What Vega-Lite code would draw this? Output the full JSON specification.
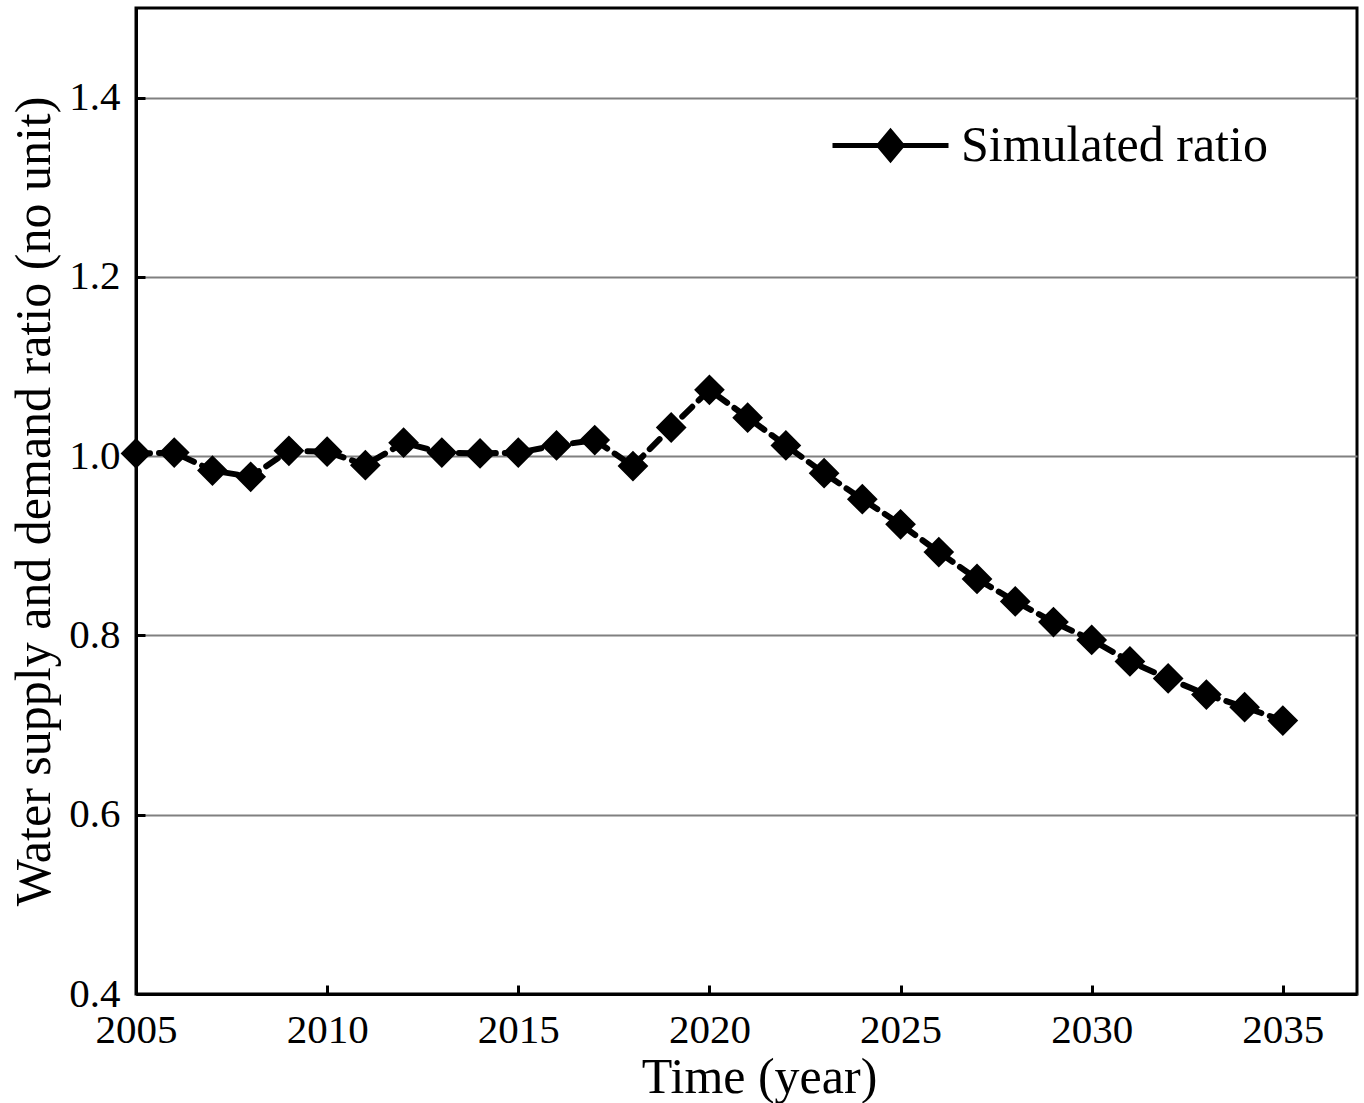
{
  "$schema": "https://vega.github.io/schema/vega-lite/v6.json",
  "width": 1221,
  "height": 986,
  "autosize": {"type": "none"},
  "padding": {"left": 136, "top": 8, "right": 7, "bottom": 109},
  "background": "white",
  "config": {
    "font": "Liberation Serif",
    "view": {"stroke": "black", "strokeWidth": 3},
    "axis": {
      "domainColor": "black", "domainWidth": 3,
      "tickColor": "black", "tickWidth": 3,
      "labelFont": "Liberation Serif", "labelFontSize": 41, "labelColor": "black",
      "titleFont": "Liberation Serif", "titleFontSize": 50, "titleFontWeight": "normal", "titleColor": "black"
    }
  },
  "data": {"values": [
    {"year": 2005, "ratio": 1.003, "series": "Simulated ratio"},
    {"year": 2006, "ratio": 1.004, "series": "Simulated ratio"},
    {"year": 2007, "ratio": 0.984, "series": "Simulated ratio"},
    {"year": 2008, "ratio": 0.977, "series": "Simulated ratio"},
    {"year": 2009, "ratio": 1.006, "series": "Simulated ratio"},
    {"year": 2010, "ratio": 1.005, "series": "Simulated ratio"},
    {"year": 2011, "ratio": 0.990, "series": "Simulated ratio"},
    {"year": 2012, "ratio": 1.015, "series": "Simulated ratio"},
    {"year": 2013, "ratio": 1.004, "series": "Simulated ratio"},
    {"year": 2014, "ratio": 1.003, "series": "Simulated ratio"},
    {"year": 2015, "ratio": 1.004, "series": "Simulated ratio"},
    {"year": 2016, "ratio": 1.012, "series": "Simulated ratio"},
    {"year": 2017, "ratio": 1.018, "series": "Simulated ratio"},
    {"year": 2018, "ratio": 0.989, "series": "Simulated ratio"},
    {"year": 2019, "ratio": 1.032, "series": "Simulated ratio"},
    {"year": 2020, "ratio": 1.074, "series": "Simulated ratio"},
    {"year": 2021, "ratio": 1.043, "series": "Simulated ratio"},
    {"year": 2022, "ratio": 1.012, "series": "Simulated ratio"},
    {"year": 2023, "ratio": 0.981, "series": "Simulated ratio"},
    {"year": 2024, "ratio": 0.952, "series": "Simulated ratio"},
    {"year": 2025, "ratio": 0.924, "series": "Simulated ratio"},
    {"year": 2026, "ratio": 0.893, "series": "Simulated ratio"},
    {"year": 2027, "ratio": 0.863, "series": "Simulated ratio"},
    {"year": 2028, "ratio": 0.838, "series": "Simulated ratio"},
    {"year": 2029, "ratio": 0.815, "series": "Simulated ratio"},
    {"year": 2030, "ratio": 0.795, "series": "Simulated ratio"},
    {"year": 2031, "ratio": 0.771, "series": "Simulated ratio"},
    {"year": 2032, "ratio": 0.752, "series": "Simulated ratio"},
    {"year": 2033, "ratio": 0.734, "series": "Simulated ratio"},
    {"year": 2034, "ratio": 0.720, "series": "Simulated ratio"},
    {"year": 2035, "ratio": 0.705, "series": "Simulated ratio"}
  ]},
  "encoding": {
    "x": {
      "field": "year", "type": "quantitative",
      "scale": {"domain": [2005, 2036.94], "nice": false, "zero": false},
      "axis": {
        "values": [2005, 2010, 2015, 2020, 2025, 2030, 2035], "format": "d",
        "grid": false, "tickSize": -9, "labelPadding": 25,
        "title": "Time (year)", "titlePadding": 2, "titleX": 623,
        "labelFlush": false
      }
    },
    "y": {
      "field": "ratio", "type": "quantitative",
      "scale": {"domain": [0.4, 1.5], "nice": false, "zero": false},
      "axis": {
        "values": [0.4, 0.6, 0.8, 1.0, 1.2, 1.4], "format": ".1f",
        "grid": true, "gridColor": "#808080", "gridWidth": 2, "gridOpacity": 1,
        "tickSize": -9, "labelPadding": 25,
        "title": "Water supply and demand ratio (no unit)", "titlePadding": 9
      }
    }
  },
  "layer": [
    {
      "mark": {"type": "line", "color": "black", "strokeWidth": 6, "strokeDash": [14, 9], "strokeCap": "round"}
    },
    {
      "mark": {"type": "point", "shape": "diamond", "filled": true, "opacity": 1, "size": 780, "fill": "black", "stroke": "black"},
      "encoding": {
        "color": {
          "field": "series", "type": "nominal",
          "scale": {"range": ["black"]},
          "legend": {
            "title": null, "orient": "none", "legendX": 694, "legendY": 77,
            "symbolType": "M-1,0H1M0,-0.24L0.2,0L0,0.24L-0.2,0Z",
            "symbolSize": 13456, "symbolStrokeWidth": 5, "symbolFillColor": "black", "symbolStrokeColor": "black",
            "labelFont": "Liberation Serif", "labelFontSize": 50, "labelColor": "black", "labelOffset": 10,
            "labelLimit": 500
          }
        }
      }
    }
  ]
}
